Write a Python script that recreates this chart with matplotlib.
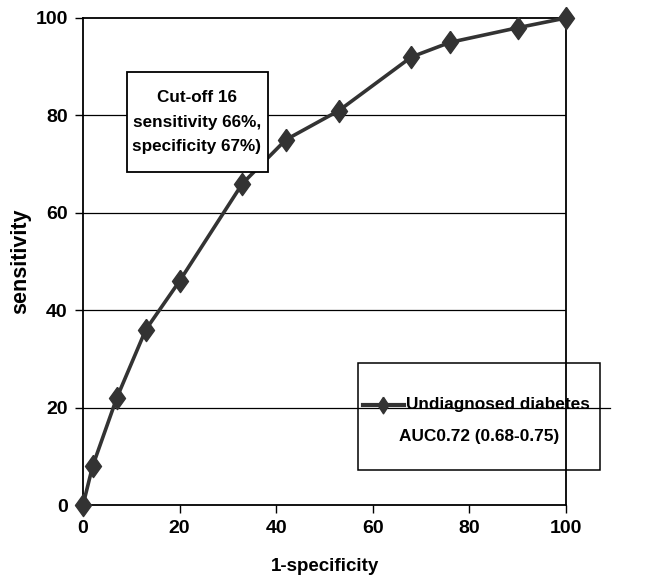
import matplotlib
matplotlib.use("Agg")
import matplotlib.pyplot as plt
import matplotlib.transforms as mtransforms
from matplotlib.patches import Rectangle
from matplotlib.lines import Line2D

plt.rcParams['font.family'] = ['Liberation Sans', 'DejaVu Sans']
plt.rcParams['font.weight'] = 'bold'

one_minus_spec = [0, 2, 7, 13, 20, 33, 42, 53, 68, 76, 90, 100]
sensitivity = [0, 8, 22, 36, 46, 66, 75, 81, 92, 95, 98, 100]
ticks = [0, 20, 40, 60, 80, 100]
series_label = "Undiagnosed diabetes"
auc_label = "AUC0.72 (0.68-0.75)"
cutoff_text = "Cut-off 16\nsensitivity 66%,\nspecificity 67%)"

W, H = 650, 579
fig = plt.figure(figsize=(W / 100, H / 100), dpi=100)
ax = fig.add_axes([83 / W, 1 - 505 / H, (566 - 83) / W, (505 - 18) / H])

col = '#333333'
tall_diamond = [(0, 1), (0.72, 0), (0, -1), (-0.72, 0), (0, 1)]
ax.plot(one_minus_spec, sensitivity, color=col, lw=2.6, marker=tall_diamond,
        markersize=16, markeredgecolor=col, markerfacecolor=col, zorder=5, clip_on=False)

ax.set_xlim(0, 100)
ax.set_ylim(0, 100)
ax.set_xticks(ticks)
ax.set_yticks(ticks)
for y in ticks[1:-1]:
    ax.axhline(y, color='black', lw=0.9, zorder=1)
# the 20-gridline runs on through the legend box
trans = mtransforms.blended_transform_factory(fig.transFigure, ax.transData)
fig.lines.append(Line2D([566 / W, 610 / W], [20, 20], transform=trans,
                        color='black', lw=0.9, zorder=1))
for s in ax.spines.values():
    s.set_linewidth(1.3)
ax.tick_params(direction='out', length=6, width=1, labelsize=14, pad=5)
for lab in ax.get_xticklabels() + ax.get_yticklabels():
    lab.set_fontweight('bold')
ax.set_xlabel('1-specificity', fontsize=13.5, fontweight='bold', labelpad=15)
ax.set_ylabel('sensitivity', fontsize=15.5, fontweight='bold', labelpad=3)

# cut-off annotation box
fig.patches.append(Rectangle((127 / W, 1 - 172 / H), (268 - 127) / W, (172 - 72) / H,
                             transform=fig.transFigure, facecolor='white',
                             edgecolor='black', lw=1.3, zorder=6))
fig.text(197 / W, 1 - 122 / H, cutoff_text, ha='center', va='center', fontsize=12.3,
         fontweight='bold', linespacing=1.8, zorder=7)

# legend box
fig.patches.append(Rectangle((358 / W, 1 - 470 / H), (600 - 358) / W, (470 - 363) / H,
                             transform=fig.transFigure, facecolor='none',
                             edgecolor='black', lw=1.1, zorder=6))
fig.lines.append(Line2D([363 / W, 404 / W], [1 - 405 / H, 1 - 405 / H],
                        transform=fig.transFigure, color=col, lw=3, zorder=7))
fig.lines.append(Line2D([383 / W], [1 - 405 / H], transform=fig.transFigure,
                        color=col, marker=[(0, 1), (0.65, 0), (0, -1), (-0.65, 0), (0, 1)],
                        markersize=12, markeredgecolor=col,
                        markerfacecolor=col, zorder=7))
fig.text(406 / W, 1 - 405 / H, series_label, ha='left', va='center', fontsize=12.4,
         fontweight='bold', zorder=7)
fig.text(479 / W, 1 - 437 / H, auc_label, ha='center', va='center', fontsize=12.4,
         fontweight='bold', zorder=7)

fig.savefig('out.png', dpi=100)
